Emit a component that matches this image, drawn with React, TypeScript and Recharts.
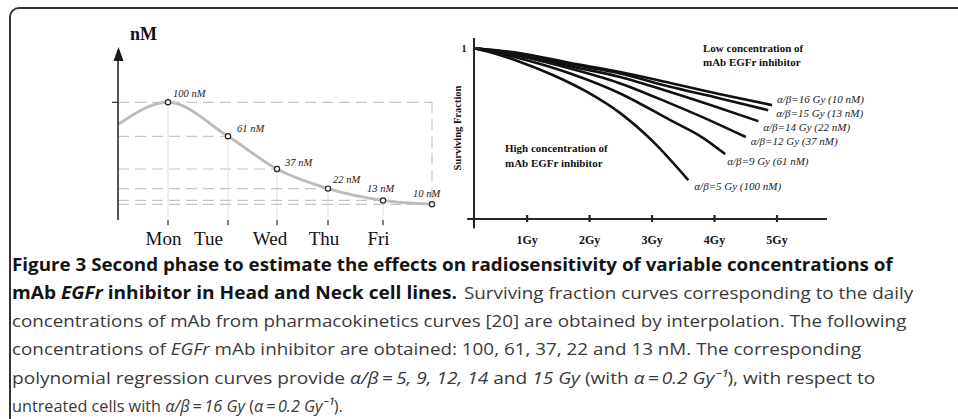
import React, { useLayoutEffect, useRef, useState } from 'react';
import { LineChart, Line, XAxis, YAxis, ReferenceLine } from 'recharts';

// ---------- Left panel data (pharmacokinetics curve) ----------
const dayNames = ['Mon', 'Tue', 'Wed', 'Thu', 'Fri'];
const dayTickPos = [1, 2.2, 3.18, 4.2, 5.3];
const dayLabelPos = [0.91, 1.81, 3.04, 4.12, 5.21];
const curveX = [0, 1, 2.2, 3.18, 4.2, 5.3, 6.28];
const curveLevel = [73, 90, 64, 39, 24, 15, 12];
const pointLabels = ['100 nM', '61 nM', '37 nM', '22 nM', '13 nM', '10 nM'];

// ---------- Right panel data (surviving fraction curves) ----------
const doseTicks = [1, 2, 3, 4, 5];
const seriesNames = [
  'α/β=16 Gy (10 nM)',
  'α/β=15 Gy (13 nM)',
  'α/β=14 Gy (22 nM)',
  'α/β=12 Gy (37 nM)',
  'α/β=9 Gy (61 nM)',
  'α/β=5 Gy (100 nM)',
];
const dose16 = [0.15, 0.89, 1.69, 2.49, 3.29, 4.09, 4.92];
const sf16 = [1.0, 0.971, 0.914, 0.861, 0.797, 0.731, 0.667];
const dose15 = [0.15, 0.89, 1.69, 2.49, 3.29, 4.09, 4.86];
const sf15 = [1.0, 0.968, 0.906, 0.852, 0.774, 0.706, 0.637];
const dose14 = [0.15, 0.89, 1.69, 2.49, 3.29, 4.09, 4.7];
const sf14 = [1.0, 0.962, 0.895, 0.832, 0.744, 0.649, 0.573];
const dose12 = [0.15, 0.89, 1.69, 2.49, 3.29, 4.09, 4.5];
const sf12 = [1.0, 0.953, 0.881, 0.794, 0.677, 0.55, 0.48];
const dose9 = [0.15, 0.89, 1.69, 2.49, 3.29, 3.82, 4.17];
const sf9 = [1.0, 0.94, 0.852, 0.735, 0.579, 0.474, 0.38];
const dose5 = [0.15, 0.52, 0.89, 1.42, 1.96, 2.49, 3.02, 3.58];
const sf5 = [1.0, 0.965, 0.92, 0.842, 0.744, 0.62, 0.452, 0.228];

const seriesDoses = [dose16, dose15, dose14, dose12, dose9, dose5];
const seriesSF = [sf16, sf15, sf14, sf12, sf9, sf5];

// ---------- styles ----------
const SERIF = '"Liberation Serif", "Times New Roman", serif';
const SANS = '"Open Sans", "Noto Sans", sans-serif';
const POINT_LABEL_OFFSETS = [[5, -5.5], [9, -4.5], [8, -3.5], [5, -5.5], [-16, -8.5], [-19, -7.5]];
const END_LABEL_OFFSETS = [[5, -2.5], [8, 6.5], [5, 9.5], [5, 7.5], [2, 10.5], [6, 9.5]];

const curveData = curveX.map((x, i) => ({ x, v: curveLevel[i] }));
const pointData = curveData.slice(1).map((p, i) => ({ ...p, name: pointLabels[i] }));
const lastX = curveX[curveX.length - 1];

function LeftChart() {
  const dashColor = '#c6c6c6';
  const axisColor = '#2a2a2a';
  return (
    <LineChart width={480} height={260} margin={{ top: 50, right: 30, left: 0, bottom: 0 }}>
      <XAxis
        dataKey="x"
        type="number"
        domain={[0, 6.64]}
        allowDataOverflow
        ticks={dayTickPos}
        tick={false}
        tickLine={false}
        height={0}
        axisLine={{ stroke: axisColor, strokeWidth: 1.6 }}
      />
      <XAxis
        xAxisId="lab"
        dataKey="x"
        type="number"
        domain={[0, 6.64]}
        allowDataOverflow
        ticks={dayLabelPos}
        tickFormatter={(v: number) => dayNames[dayLabelPos.indexOf(v)] ?? ''}
        axisLine={false}
        tickLine={false}
        tickSize={0}
        tickMargin={12}
        height={40}
        tick={{ fontFamily: SERIF, fontSize: 19, fill: '#111' }}
      />
      <YAxis
        type="number"
        domain={[0, 130]}
        allowDataOverflow
        ticks={[curveLevel[1]]}
        tick={false}
        tickLine={false}
        width={118}
        axisLine={{ stroke: axisColor, strokeWidth: 1.6 }}
      />
      {pointData.slice(0, 5).map((p, i) => (
        <ReferenceLine
          key={`v${i}`}
          segment={[{ x: p.x, y: 0 }, { x: p.x, y: p.v }]}
          stroke="#dedede"
          strokeWidth={1}
        />
      ))}
      {pointData.map((p, i) => (
        <ReferenceLine
          key={`h${i}`}
          segment={[{ x: 0, y: p.v }, { x: i === 0 ? lastX : p.x, y: p.v }]}
          stroke={dashColor}
          strokeWidth={1.2}
          strokeDasharray="11 6"
        />
      ))}
      <ReferenceLine
        segment={[{ x: lastX, y: curveLevel[1] }, { x: lastX, y: curveLevel[curveLevel.length - 1] }]}
        stroke={dashColor}
        strokeWidth={1.2}
        strokeDasharray="11 6"
      />
      {dayTickPos.map((t) => (
        <ReferenceLine
          key={`xt${t}`}
          segment={[{ x: t, y: 0 }, { x: t, y: -4 }]}
          ifOverflow="visible"
          stroke={axisColor}
          strokeWidth={1.2}
        />
      ))}
      <ReferenceLine
        segment={[{ x: 0, y: curveLevel[1] }, { x: -0.12, y: curveLevel[1] }]}
        ifOverflow="visible"
        stroke={axisColor}
        strokeWidth={1.2}
      />
      <Line
        data={curveData}
        dataKey="v"
        type="monotone"
        stroke="#bcbcbc"
        strokeWidth={3}
        dot={false}
        isAnimationActive={false}
      />
      <Line
        data={pointData}
        dataKey="v"
        stroke="none"
        isAnimationActive={false}
        dot={(props: any) => (
          <circle
            key={`pt${props.index}`}
            cx={props.cx}
            cy={props.cy}
            r={2.6}
            fill="#fff"
            stroke="#222"
            strokeWidth={1.2}
          />
        )}
        label={(props: any) => {
          const off = POINT_LABEL_OFFSETS[props.index] || [0, 0];
          return (
            <text
              key={`pl${props.index}`}
              x={props.x + off[0]}
              y={props.y + off[1]}
              fontFamily={SERIF}
              fontStyle="italic"
              fontSize={10.5}
              fill="#222"
            >
              {pointLabels[props.index]}
            </text>
          );
        }}
      />
    </LineChart>
  );
}

function RightChart() {
  const axisStroke = '#262626';
  return (
    <LineChart width={440} height={260} margin={{ top: 38, right: 53, left: 0, bottom: 0 }}>
      <XAxis
        dataKey="d"
        type="number"
        domain={[0.15, 5.8]}
        allowDataOverflow
        ticks={doseTicks}
        tickSize={0}
        tickMargin={0}
        tickLine={false}
        height={41}
        axisLine={{ stroke: axisStroke, strokeWidth: 2 }}
        tick={(props: any) => (
          <g key={`xt${props.index}`}>
            <line x1={props.x} x2={props.x} y1={props.y - 4} y2={props.y + 3} stroke={axisStroke} strokeWidth={2.2} />
            <text
              x={props.x}
              y={props.y + 25}
              textAnchor="middle"
              fontFamily={SERIF}
              fontWeight="bold"
              fontSize={12}
              fill="#111"
            >
              {`${props.payload.value}Gy`}
            </text>
          </g>
        )}
      />
      <YAxis
        type="number"
        domain={[0, 1.06]}
        allowDataOverflow
        ticks={[1]}
        tickSize={0}
        tickMargin={0}
        tickLine={false}
        width={34}
        axisLine={{ stroke: axisStroke, strokeWidth: 2 }}
        tick={(props: any) => (
          <g key={`yt${props.index}`}>
            <line x1={props.x} x2={props.x + 7} y1={props.y} y2={props.y} stroke={axisStroke} strokeWidth={2.5} />
            <text
              x={props.x - 10}
              y={props.y + 3.5}
              textAnchor="middle"
              fontFamily={SERIF}
              fontWeight="bold"
              fontSize={10}
              fill="#111"
            >
              {props.payload.value}
            </text>
          </g>
        )}
      />
      <ReferenceLine
        segment={[{ x: 0.15, y: 0 }, { x: 0.15, y: -0.055 }]}
        ifOverflow="visible"
        stroke={axisStroke}
        strokeWidth={2}
      />
      <ReferenceLine
        segment={[{ x: 0.15, y: 0 }, { x: 0.04, y: 0 }]}
        ifOverflow="visible"
        stroke={axisStroke}
        strokeWidth={2}
      />
      {seriesNames.map((name, si) => {
        const data = seriesDoses[si].map((d, i) => ({ d, sf: seriesSF[si][i] }));
        const last = data.length - 1;
        const off = END_LABEL_OFFSETS[si];
        return (
          <Line
            key={name}
            data={data}
            dataKey="sf"
            type="monotone"
            stroke="#111"
            strokeWidth={2.6}
            dot={false}
            isAnimationActive={false}
            label={(props: any) =>
              props.index === last ? (
                <text
                  key={`el${si}`}
                  x={props.x + off[0]}
                  y={props.y + off[1]}
                  fontFamily={SERIF}
                  fontStyle="italic"
                  fontSize={11}
                  fill="#222"
                >
                  {name}
                </text>
              ) : (
                <g key={`e${si}-${props.index}`} />
              )
            }
          />
        );
      })}
    </LineChart>
  );
}

type Seg = { t: string; b?: boolean; i?: boolean };
const TS = '\u2009';
const captionLines: { x: number; w: number; segs: Seg[] }[][] = [
  [{ x: 12, w: 881, segs: [{ t: 'Figure 3 Second phase to estimate the effects on radiosensitivity of variable concentrations of', b: true }] }],
  [
    { x: 12, w: 445, segs: [{ t: 'mAb ', b: true }, { t: 'EGFr', b: true, i: true }, { t: ' inhibitor in Head and Neck cell lines.', b: true }] },
    { x: 464, w: 449, segs: [{ t: 'Surviving fraction curves corresponding to the daily' }] },
  ],
  [{ x: 12, w: 894, segs: [{ t: 'concentrations of mAb from pharmacokinetics curves [20] are obtained by interpolation. The following' }] }],
  [{ x: 12, w: 849, segs: [{ t: 'concentrations of ' }, { t: 'EGFr', i: true }, { t: ' mAb inhibitor are obtained: 100, 61, 37, 22 and 13 nM. The corresponding' }] }],
  [{ x: 12, w: 863, segs: [
    { t: 'polynomial regression curves provide ' },
    { t: `α/β${TS}=${TS}5, 9, 12, 14`, i: true },
    { t: ' and ' },
    { t: '15 Gy', i: true },
    { t: ' (with ' },
    { t: `α${TS}=${TS}0.2 Gy⁻¹`, i: true },
    { t: '), with respect to' },
  ] }],
  [{ x: 12, w: 331, segs: [
    { t: 'untreated cells with ' },
    { t: `α/β${TS}=${TS}16 Gy`, i: true },
    { t: ' (' },
    { t: `α${TS}=${TS}0.2 Gy⁻¹`, i: true },
    { t: ').' },
  ] }],
];

function FitText({ x, y, w, children, ...rest }: any) {
  const ref = useRef<SVGTextElement>(null);
  const [s, setS] = useState(1);
  useLayoutEffect(() => {
    const measure = () => {
      if (ref.current) {
        const len = ref.current.getComputedTextLength();
        if (len > 0) setS(w / len);
      }
    };
    measure();
    const fonts = (document as any).fonts;
    if (fonts && fonts.ready) fonts.ready.then(measure);
  }, [w]);
  return (
    <text ref={ref} transform={`translate(${x} ${y}) scale(${s} 1)`} x={0} y={0} {...rest}>
      {children}
    </text>
  );
}

function Caption() {
  return (
    <g>
      {captionLines.map((line, li) =>
        line.map((part, pi) => (
          <FitText
            key={`c${li}-${pi}`}
            x={part.x}
            y={271 + li * 28.15}
            w={part.w}
            fontFamily={SANS}
            fontSize={17}
          >
            {part.segs.map((s, si) => (
              <tspan
                key={si}
                fontWeight={s.b ? 'bold' : 'normal'}
                fontStyle={s.i ? 'italic' : 'normal'}
                fill={s.b ? '#141414' : '#3a3a3a'}
              >
                {s.t}
              </tspan>
            ))}
          </FitText>
        ))
      )}
    </g>
  );
}

export default function App() {
  return (
    <div style={{ position: 'absolute', left: 0, top: 0, width: 958, height: 419, overflow: 'hidden', background: '#fff' }}>
      <div
        style={{
          position: 'absolute',
          left: 9,
          top: 7,
          width: 1100,
          height: 600,
          border: '2px solid #333',
          borderRadius: 10,
          boxSizing: 'border-box',
        }}
      />
      <div style={{ position: 'absolute', left: 0, top: 0 }}>
        <LeftChart />
      </div>
      <div style={{ position: 'absolute', left: 440, top: 0 }}>
        <RightChart />
      </div>
      <svg style={{ position: 'absolute', left: 0, top: 0, pointerEvents: 'none' }} width={958} height={419}>
        <polygon points="118.5,47 113.5,61 123.5,61" fill="#1a1a1a" />
        <text x={130} y={40} fontFamily={SERIF} fontWeight="bold" fontSize={18} fill="#111">nM</text>
        <text
          x={459}
          y={128}
          transform="rotate(-90 459 128)"
          textAnchor="middle"
          dominantBaseline="middle"
          fontFamily={SERIF}
          fontWeight="bold"
          fontSize={10.5}
          fill="#111"
        >
          Surviving Fraction
        </text>
        <text fontFamily={SERIF} fontWeight="bold" fontSize={11} fill="#111">
          <tspan x={703} y={52}>Low concentration of</tspan>
          <tspan x={703} y={66}>mAb EGFr inhibitor</tspan>
        </text>
        <text fontFamily={SERIF} fontWeight="bold" fontSize={11} fill="#111">
          <tspan x={505} y={152}>High concentration of</tspan>
          <tspan x={505} y={167}>mAb EGFr inhibitor</tspan>
        </text>
        <Caption />
      </svg>
    </div>
  );
}
